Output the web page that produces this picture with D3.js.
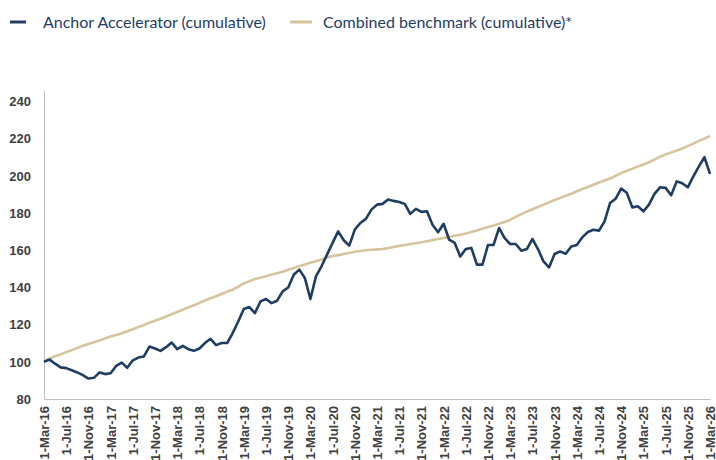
<!DOCTYPE html>
<html>
<head>
<meta charset="utf-8">
<script src="https://cdn.jsdelivr.net/npm/d3@7"></script>
<style>
  html, body { margin: 0; padding: 0; background: #ffffff; }
  svg { display: block; }
</style>
</head>
<body>
<svg id="chart" width="716" height="460"></svg>
<script>
// ---- Data (monthly, 1-Mar-16 .. 1-Mar-26) ----
const seriesNames = ["Anchor Accelerator (cumulative)", "Combined benchmark (cumulative)*"];

const anchorValues = [
  100.0, 101.2, 99.0, 97.0, 96.6, 95.5, 94.3, 92.8, 91.0, 91.4, 94.3, 93.4,
  93.9, 97.8, 99.6, 96.8, 100.8, 102.3, 102.9, 108.2, 107.2, 105.9, 107.9, 110.4,
  106.8, 108.6, 106.8, 105.9, 107.2, 110.1, 112.4, 109.0, 110.1, 110.1, 115.5, 121.7,
  128.4, 129.5, 126.2, 132.5, 133.8, 131.6, 132.9, 137.9, 140.0, 146.9, 149.6, 145.1,
  133.8, 146.0, 151.4, 157.7, 164.0, 170.2, 165.4, 162.5, 171.1, 174.7, 176.9, 181.9,
  184.6, 185.0, 187.3, 186.6, 186.0, 185.0, 179.6, 182.3, 180.7, 181.0, 173.8, 169.7,
  174.3, 165.7, 164.0, 156.7, 160.7, 161.3, 152.3, 152.3, 162.9, 162.9, 172.0, 166.6,
  163.4, 163.4, 159.8, 160.7, 166.1, 160.7, 154.0, 150.8, 158.0, 159.4, 158.2, 162.1,
  162.9, 167.0, 169.9, 171.1, 170.6, 175.6, 185.5, 187.8, 193.2, 191.0, 183.1, 183.7,
  181.0, 184.6, 190.4, 193.9, 193.6, 189.6, 197.1, 196.1, 193.9, 199.8, 205.2, 210.1,
  201.1
];

const benchmarkValues = [
  100.5, 101.8, 103.0, 104.0, 105.2, 106.4, 107.4, 108.6, 109.6, 110.5, 111.5, 112.6,
  113.6, 114.5, 115.4, 116.4, 117.5, 118.7, 119.8, 121.0, 122.1, 123.2, 124.4, 125.6,
  126.8, 128.0, 129.3, 130.4, 131.7, 133.0, 134.2, 135.3, 136.5, 137.8, 138.8, 140.5,
  142.2, 143.4, 144.6, 145.3, 146.1, 147.0, 147.7, 148.5, 149.5, 150.5, 151.5, 152.4,
  153.3, 154.1, 155.0, 156.2, 156.9, 157.4, 158.0, 158.6, 159.2, 159.6, 160.0, 160.3,
  160.5, 160.7, 161.2, 161.8, 162.4, 162.9, 163.4, 163.8, 164.3, 164.9, 165.5, 166.1,
  166.6, 167.2, 167.8, 168.4, 169.0, 169.8, 170.7, 171.6, 172.5, 173.4, 174.3, 175.2,
  176.4, 178.0, 179.5, 180.8, 182.1, 183.3, 184.6, 185.8, 187.1, 188.2, 189.4, 190.4,
  191.8, 193.0, 194.1, 195.3, 196.5, 197.6, 198.6, 200.1, 201.6, 202.8, 203.9, 205.1,
  206.2, 207.4, 208.8, 210.4, 211.6, 212.6, 213.7, 214.8, 216.1, 217.4, 218.9, 220.1,
  221.6
];

const xTickLabels = [
  "1-Mar-16", "1-Jul-16", "1-Nov-16", "1-Mar-17", "1-Jul-17", "1-Nov-17",
  "1-Mar-18", "1-Jul-18", "1-Nov-18", "1-Mar-19", "1-Jul-19", "1-Nov-19",
  "1-Mar-20", "1-Jul-20", "1-Nov-20", "1-Mar-21", "1-Jul-21", "1-Nov-21",
  "1-Mar-22", "1-Jul-22", "1-Nov-22", "1-Mar-23", "1-Jul-23", "1-Nov-23",
  "1-Mar-24", "1-Jul-24", "1-Nov-24", "1-Mar-25", "1-Jul-25", "1-Nov-25",
  "1-Mar-26"
];

const yTickValues = [80, 100, 120, 140, 160, 180, 200, 220, 240];

// ---- Styles ----
const colors = ["#1f3d63", "#d5c59d"];
const textColor = "#404040";
const legendTextColor = "#1f3d63";
const axisColor = "#bfbfbf";

const svg = d3.select("#chart");

const x = d3.scaleLinear().domain([0, anchorValues.length - 1]).range([44, 710]);
const y = d3.scaleLinear().domain([80, 246]).range([399, 90.5]);

// Axes
const yAxis = d3.axisLeft(y).tickValues(yTickValues).tickSize(0).tickPadding(0).tickFormat(d3.format("d"));
const gy = svg.append("g").attr("transform", "translate(44,0)").call(yAxis);
gy.select(".domain").attr("stroke", axisColor).attr("stroke-width", 1);
gy.selectAll(".tick text")
  .attr("x", -13)
  .attr("fill", textColor)
  .style("font-family", "'Liberation Sans', Arial, sans-serif")
  .style("font-weight", "bold")
  .style("font-size", "13px");

const xTickIdx = xTickLabels.map((_, i) => i * 4);
const xAxis = d3.axisBottom(x).tickValues(xTickIdx).tickSize(0).tickPadding(0)
  .tickFormat((d, i) => xTickLabels[i]);
const gx = svg.append("g").attr("transform", "translate(0,399)").call(xAxis);
gx.select(".domain").attr("stroke", axisColor).attr("stroke-width", 1);
gx.selectAll(".tick text")
  .attr("transform", "rotate(-90)")
  .attr("text-anchor", "end")
  .attr("x", -7)
  .attr("y", 0)
  .attr("dy", "0.35em")
  .attr("fill", textColor)
  .style("font-family", "'Liberation Sans', Arial, sans-serif")
  .style("font-weight", "bold")
  .style("font-size", "13px");

// Lines
const line = d3.line().x((d, i) => x(i)).y(d => y(d));
[benchmarkValues, anchorValues].forEach((vals, k) => {
  svg.append("path")
    .datum(vals)
    .attr("fill", "none")
    .attr("stroke", k === 0 ? colors[1] : colors[0])
    .attr("stroke-width", 2.6)
    .attr("stroke-linejoin", "round")
    .attr("d", line);
});

// Legend
const legendItems = [
  { name: seriesNames[0], color: colors[0], x0: 10, x1: 26, tx: 43 },
  { name: seriesNames[1], color: colors[1], x0: 290, x1: 312, tx: 323 }
];
legendItems.forEach(it => {
  svg.append("line")
    .attr("x1", it.x0).attr("x2", it.x1).attr("y1", 22).attr("y2", 22)
    .attr("stroke", it.color).attr("stroke-width", 3);
  svg.append("text")
    .attr("x", it.tx).attr("y", 27.5)
    .attr("fill", legendTextColor)
    .style("font-family", "Lato, 'Open Sans', sans-serif")
    .style("font-size", "16px")
    .text(it.name);
});
</script>
</body>
</html>
